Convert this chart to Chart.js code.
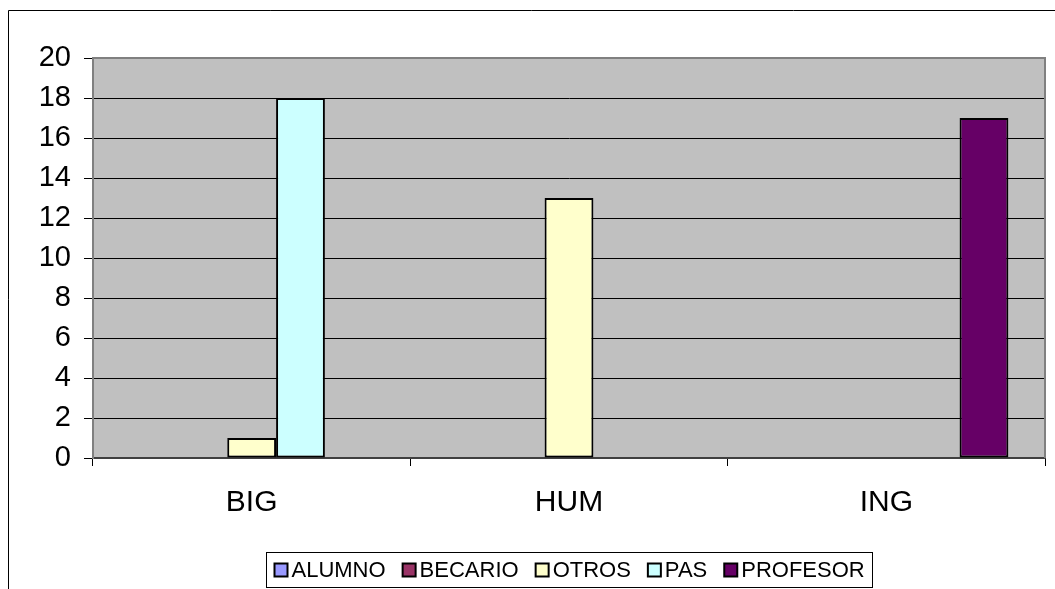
<!DOCTYPE html>
<html lang="es">
<head>
    <meta charset="UTF-8">
    <title>Personal por centro</title>
    <script src="https://cdn.jsdelivr.net/npm/chart.js"></script>
    <style>
        html, body { margin: 0; padding: 0; background: #fff; }
        #grafico { display: block; }
    </style>
</head>
<body>
    <canvas id="grafico" width="1055" height="589"></canvas>

    <script>
        // Datos por centro y colectivo
        const centros = ['BIG', 'HUM', 'ING'];
        const alumno = [0, 0, 0];
        const becario = [0, 0, 0];
        const otros = [1, 13, 0];
        const pas = [18, 0, 0];
        const profesor = [0, 0, 17];
        const ticksY = [0, 2, 4, 6, 8, 10, 12, 14, 16, 18, 20];

        const FUENTE = '"Liberation Sans", Arial, sans-serif';

        function serie(nombre, valores, color) {
            return {
                label: nombre,
                data: valores,
                backgroundColor: color,
                borderColor: '#000',
                // las barras a cero no se dibujan
                borderWidth: c => (c.raw === 0 ? 0 : 2),
                borderSkipped: false,
                categoryPercentage: 5 / 6.5,
                barPercentage: 1
            };
        }

        // fondo gris del area de trazado
        const fondoPlot = {
            id: 'fondoPlot',
            beforeDraw(chart) {
                const { ctx, chartArea: a } = chart;
                ctx.save();
                ctx.fillStyle = '#C0C0C0';
                ctx.fillRect(a.left, a.top, a.right - a.left, a.bottom - a.top);
                ctx.restore();
            },
            beforeDatasetsDraw(chart) {
                const { ctx, chartArea: a } = chart;
                ctx.save();
                ctx.strokeStyle = '#808080';
                ctx.lineWidth = 2;
                ctx.beginPath();
                ctx.moveTo(a.left, a.top);
                ctx.lineTo(a.right, a.top);
                ctx.lineTo(a.right, a.bottom);
                ctx.stroke();
                ctx.restore();
            }
        };

        // marco exterior y leyenda con recuadro
        const marcoLeyenda = {
            id: 'marcoLeyenda',
            afterDraw(chart) {
                const ctx = chart.ctx;
                ctx.save();
                ctx.strokeStyle = '#000';
                ctx.lineWidth = 1;
                ctx.beginPath();
                ctx.moveTo(8.5, 589);
                ctx.lineTo(8.5, 10.5);
                ctx.lineTo(1055, 10.5);
                ctx.stroke();

                // leyenda
                ctx.font = '22px ' + FUENTE;
                const sets = chart.data.datasets;
                const hueco = 17, sep = 17;
                let ancho = 0;
                const anchos = sets.map(d => ctx.measureText(d.label).width);
                anchos.forEach(w => { ancho += hueco + w + sep; });
                ancho -= sep;
                const cx = (chart.chartArea.left + chart.chartArea.right) / 2;
                const bx = Math.round(cx - ancho / 2 - 8) + 0.5;
                const by = 552.5;
                const bw = Math.round(ancho + 16);
                const bh = 35;
                ctx.fillStyle = '#fff';
                ctx.fillRect(bx, by, bw, bh);
                ctx.strokeRect(bx, by, bw, bh);

                let x = bx + 8;
                const ym = by + bh / 2;
                ctx.textBaseline = 'middle';
                sets.forEach((d, i) => {
                    ctx.fillStyle = d.backgroundColor;
                    ctx.fillRect(x, ym - 6.5, 13, 13);
                    ctx.lineWidth = 2;
                    ctx.strokeStyle = '#000';
                    ctx.strokeRect(x, ym - 6.5, 13, 13);
                    ctx.fillStyle = '#000';
                    ctx.fillText(d.label, x + hueco, ym + 1);
                    x += hueco + anchos[i] + sep;
                });
                ctx.restore();
            }
        };

        const ctx = document.getElementById('grafico').getContext('2d');
        new Chart(ctx, {
            type: 'bar',
            data: {
                labels: centros,
                datasets: [
                    serie('ALUMNO', alumno, '#9999FF'),
                    serie('BECARIO', becario, '#993366'),
                    serie('OTROS', otros, '#FFFFCC'),
                    serie('PAS', pas, '#CCFFFF'),
                    serie('PROFESOR', profesor, '#660066')
                ]
            },
            options: {
                responsive: false,
                animation: false,
                layout: { padding: { left: 0, top: 58, right: 10, bottom: 0 } },
                plugins: {
                    legend: { display: false },
                    tooltip: { enabled: false }
                },
                scales: {
                    x: {
                        afterFit(scale) { scale.height = 131; },
                        grid: {
                            offset: true,
                            drawOnChartArea: false,
                            drawTicks: true,
                            tickLength: 8,
                            color: '#000'
                        },
                        border: { color: '#404040', width: 2 },
                        ticks: {
                            color: '#000',
                            padding: 19,
                            font: { family: FUENTE, size: 30 }
                        }
                    },
                    y: {
                        min: 0,
                        max: 20,
                        afterFit(scale) { scale.width = 93; },
                        afterBuildTicks(scale) {
                            scale.ticks = ticksY.map(v => ({ value: v }));
                        },
                        grid: {
                            color: '#000',
                            lineWidth: 1,
                            drawTicks: true,
                            tickLength: 9,
                            tickColor: '#000'
                        },
                        border: { color: '#808080', width: 2 },
                        ticks: {
                            color: '#000',
                            padding: 13,
                            font: { family: FUENTE, size: 29 }
                        }
                    }
                }
            },
            plugins: [fondoPlot, marcoLeyenda]
        });
    </script>
</body>
</html>
